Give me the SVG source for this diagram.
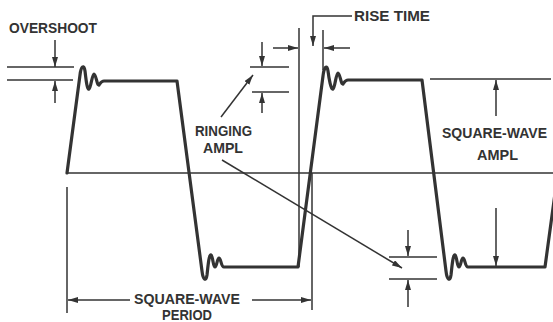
<svg xmlns="http://www.w3.org/2000/svg" width="553" height="322" viewBox="0 0 553 322">
<defs>
<marker id="ah" viewBox="0 0 10 6" refX="10" refY="3" markerWidth="10" markerHeight="6" markerUnits="userSpaceOnUse" orient="auto">
<path d="M0,0 L10,3 L0,6 Z" fill="#333"/>
</marker>
</defs>
<style>
.wave{fill:none;stroke:#333;stroke-width:3.2;stroke-linejoin:round;stroke-linecap:round}
.thin{fill:none;stroke:#333;stroke-width:1.5}
.arr{fill:none;stroke:#333;stroke-width:1.5;marker-end:url(#ah)}
.lbl{font-family:"Liberation Sans",Arial,sans-serif;font-size:15px;font-weight:bold;fill:#333}
</style>
<rect width="553" height="322" fill="#fff"/>
<g id="baseline"><line class="thin" x1="67" y1="173" x2="553" y2="173"/></g>
<g id="waveform">
<path class="wave" d="M67,173 L80,75 C81,66 84,64 85,71 C86,79 87,90 89,89 C91,88 92,74 94,74 C96,74 97,86 99,85 C100,84 101,81 104,81 L177,81 L202,271 C203,280 206,282 207,275 C208,266 209,254 211,255 C213,256 213,267 215,267 C217,267 217,258 219,258 C221,258 221,267 224,267 L298,267 L323,76 C324,67 327,64 328,71 C329,79 331,90 333,89 C335,88 336,73 338,73 C340,73 341,85 343,84 C344,83 345,80 348,80 L422,80 L446,271 C447,280 450,282 451,275 C452,266 453,254 455,255 C457,256 457,267 459,267 C461,267 461,258 463,258 C465,258 465,267 468,267 L545,267 L556,186"/>
</g>
<g id="overshoot">
<line class="thin" x1="7" y1="67" x2="74" y2="67"/>
<line class="thin" x1="7" y1="80" x2="73" y2="80"/>
<text class="lbl" x="9" y="33" textLength="88" lengthAdjust="spacingAndGlyphs">OVERSHOOT</text>
</g>
<g id="rise-time">
<line class="thin" x1="299" y1="28" x2="299" y2="267"/>
<line class="thin" x1="323" y1="30" x2="323" y2="70"/>
<text class="lbl" x="354" y="21" textLength="76" lengthAdjust="spacingAndGlyphs">RISE TIME</text>
</g>
<g id="ringing-ampl">
<line class="thin" x1="250" y1="67" x2="289" y2="67"/>
<line class="thin" x1="252" y1="92" x2="289" y2="92"/>
<line class="thin" x1="389" y1="257" x2="437" y2="257"/>
<line class="thin" x1="389" y1="279" x2="437" y2="279"/>
<text class="lbl" x="195" y="136" textLength="57" lengthAdjust="spacingAndGlyphs">RINGING</text>
<text class="lbl" x="203" y="153" textLength="40" lengthAdjust="spacingAndGlyphs">AMPL</text>
</g>
<g id="square-wave-ampl">
<line class="thin" x1="430" y1="79" x2="551" y2="79"/>
<text class="lbl" x="442" y="138" textLength="105" lengthAdjust="spacingAndGlyphs">SQUARE-WAVE</text>
<text class="lbl" x="477" y="160" textLength="41" lengthAdjust="spacingAndGlyphs">AMPL</text>
</g>
<g id="square-wave-period">
<line class="thin" x1="67" y1="187" x2="67" y2="313"/>
<line class="thin" x1="312" y1="173" x2="312" y2="310"/>
<text class="lbl" x="134" y="304" textLength="106" lengthAdjust="spacingAndGlyphs">SQUARE-WAVE</text>
<text class="lbl" x="162" y="320" textLength="50" lengthAdjust="spacingAndGlyphs">PERIOD</text>
</g>
<g id="connectors">
<line class="arr" x1="55" y1="40" x2="55" y2="67"/>
<line class="arr" x1="55" y1="103" x2="55" y2="81"/>
<line class="arr" x1="273" y1="48" x2="298" y2="48"/>
<line class="arr" x1="350" y1="48" x2="324" y2="48"/>
<polyline class="arr" points="352,16 313,16 313,46"/>
<line class="arr" x1="262" y1="42" x2="262" y2="66"/>
<line class="arr" x1="262" y1="113" x2="262" y2="93"/>
<line class="arr" x1="221" y1="117" x2="253" y2="75"/>
<line class="arr" x1="222" y1="160" x2="402" y2="268"/>
<line class="arr" x1="408" y1="230" x2="408" y2="256"/>
<line class="arr" x1="408" y1="307" x2="408" y2="280"/>
<line class="arr" x1="496" y1="116" x2="496" y2="80"/>
<line class="arr" x1="496" y1="208" x2="496" y2="266"/>
<line class="arr" x1="130" y1="300" x2="68" y2="300"/>
<line class="arr" x1="252" y1="300" x2="311" y2="300"/>
</g>
</svg>
